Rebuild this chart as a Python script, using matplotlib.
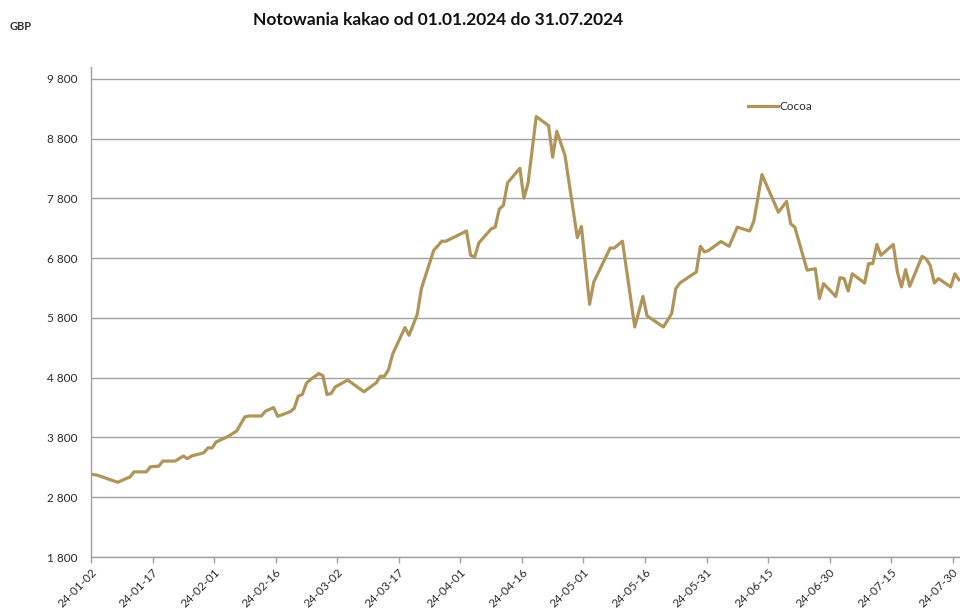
import matplotlib
matplotlib.use("Agg")
import matplotlib.pyplot as plt
import matplotlib.dates as mdates
import matplotlib.ticker as mticker
import pandas as pd

# dane (GBP)
dates = ["2024-01-02", "2024-01-03", "2024-01-08", "2024-01-11", "2024-01-12", "2024-01-15",
         "2024-01-16", "2024-01-18", "2024-01-19", "2024-01-22", "2024-01-24", "2024-01-25",
         "2024-01-26", "2024-01-29", "2024-01-30", "2024-01-31", "2024-02-01", "2024-02-04",
         "2024-02-06", "2024-02-08", "2024-02-09", "2024-02-12", "2024-02-13", "2024-02-15",
         "2024-02-16", "2024-02-19", "2024-02-20", "2024-02-21", "2024-02-22", "2024-02-23",
         "2024-02-24", "2024-02-26", "2024-02-27", "2024-02-28", "2024-02-29", "2024-03-01",
         "2024-03-04", "2024-03-05", "2024-03-08", "2024-03-11", "2024-03-12", "2024-03-13",
         "2024-03-14", "2024-03-15", "2024-03-18", "2024-03-19", "2024-03-21", "2024-03-22",
         "2024-03-25", "2024-03-27", "2024-03-28", "2024-04-02", "2024-04-03", "2024-04-04",
         "2024-04-05", "2024-04-08", "2024-04-09", "2024-04-10", "2024-04-11", "2024-04-12",
         "2024-04-15", "2024-04-16", "2024-04-17", "2024-04-19", "2024-04-22", "2024-04-23",
         "2024-04-24", "2024-04-26", "2024-04-29", "2024-04-30", "2024-05-02", "2024-05-03",
         "2024-05-07", "2024-05-08", "2024-05-10", "2024-05-13", "2024-05-15", "2024-05-16",
         "2024-05-20", "2024-05-22", "2024-05-23", "2024-05-24", "2024-05-28", "2024-05-29",
         "2024-05-30", "2024-05-31", "2024-06-03", "2024-06-05", "2024-06-07", "2024-06-10",
         "2024-06-11", "2024-06-13", "2024-06-17", "2024-06-19", "2024-06-20", "2024-06-21",
         "2024-06-24", "2024-06-26", "2024-06-27", "2024-06-28", "2024-07-01", "2024-07-02",
         "2024-07-03", "2024-07-04", "2024-07-05", "2024-07-08", "2024-07-09", "2024-07-10",
         "2024-07-11", "2024-07-12", "2024-07-15", "2024-07-16", "2024-07-17", "2024-07-18",
         "2024-07-19", "2024-07-22", "2024-07-23", "2024-07-24", "2024-07-25", "2024-07-26",
         "2024-07-29", "2024-07-30", "2024-07-31"]
cocoa = [3180, 3170, 3050, 3140, 3225, 3225,
         3310, 3320, 3405, 3405, 3490, 3445,
         3490, 3545, 3625, 3625, 3725, 3820,
         3910, 4145, 4160, 4160, 4240, 4300,
         4155, 4230, 4285, 4490, 4520, 4710,
         4770, 4870, 4835, 4520, 4535, 4645,
         4760, 4715, 4565, 4715, 4825, 4825,
         4935, 5195, 5640, 5510, 5860, 6290,
         6930, 7085, 7085, 7255, 6850, 6820,
         7055, 7290, 7320, 7625, 7685, 8060,
         8305, 7805, 8055, 9170, 9020, 8490,
         8925, 8520, 7145, 7330, 6030, 6400,
         6970, 6970, 7085, 5650, 6160, 5835,
         5650, 5875, 6290, 6385, 6570, 7000,
         6905, 6930, 7080, 7000, 7320, 7255,
         7415, 8200, 7570, 7750, 7375, 7320,
         6600, 6625, 6125, 6375, 6160, 6475,
         6460, 6250, 6540, 6385, 6710, 6710,
         7030, 6850, 7030, 6570, 6320, 6610,
         6330, 6830, 6790, 6680, 6385, 6460,
         6320, 6540, 6440]

series_name = "Cocoa"
title = "Notowania kakao od 01.01.2024 do 31.07.2024"
unit = "GBP"

x = pd.to_datetime(dates) + pd.Timedelta(hours=12)  # punkty w srodku dnia
tick_dates = pd.date_range("2024-01-02", "2024-07-30", freq="15D")

plt.rcParams["font.family"] = ["Lato", "DejaVu Sans"]

fig = plt.figure(figsize=(9.6, 6.12), dpi=100)
ax = fig.add_axes([91 / 960, 55 / 612, 870 / 960, 490 / 612])

line_color = "#b0955a"
grid_color = "#a0a0a0"

ax.plot(x, cocoa, color=line_color, lw=2.3, label=series_name, solid_joinstyle="round")

ax.set_ylim(1800, 10000)
ax.set_xlim(pd.Timestamp("2024-01-02"), pd.Timestamp("2024-08-01"))
ax.yaxis.set_major_locator(mticker.FixedLocator(range(1800, 10000, 1000)))
ax.yaxis.set_major_formatter(mticker.FuncFormatter(lambda v, p: f"{int(v):,}".replace(",", " ")))
ax.grid(axis="y", color=grid_color, lw=1)
ax.set_axisbelow(True)

ax.set_xticks(tick_dates)
ax.xaxis.set_major_formatter(mdates.DateFormatter("%y-%m-%d"))

for s in ["top", "right"]:
    ax.spines[s].set_visible(False)
for s in ["left", "bottom"]:
    ax.spines[s].set_color(grid_color)
    ax.spines[s].set_linewidth(1)

ax.tick_params(axis="y", length=0, pad=10, labelsize=8.5, labelcolor="#2b2b2b")
ax.tick_params(axis="x", length=4, width=1, color=grid_color, direction="out",
               pad=3, labelsize=8.5, labelcolor="#2b2b2b")
for lab in ax.get_xticklabels():
    lab.set_rotation(45)
    lab.set_ha("right")
    lab.set_va("top")
    lab.set_rotation_mode("anchor")

leg = ax.legend(loc="center left", bbox_to_anchor=(748 / 960, 1 - 106.5 / 612),
                bbox_transform=fig.transFigure, frameon=False, fontsize=8.5,
                handlelength=2.5, handletextpad=0.15, borderpad=0, borderaxespad=0)
for t in leg.get_texts():
    t.set_color("#2b2b2b")

fig.text(438 / 960, 1 - 20 / 612, title, ha="center", va="center",
         fontsize=12.5, fontweight="bold", color="#111111")
fig.text(10 / 960, 1 - 27 / 612, unit, ha="left", va="center",
         fontsize=8, fontweight="bold", color="#333333")

fig.savefig("out.png", dpi=100)
